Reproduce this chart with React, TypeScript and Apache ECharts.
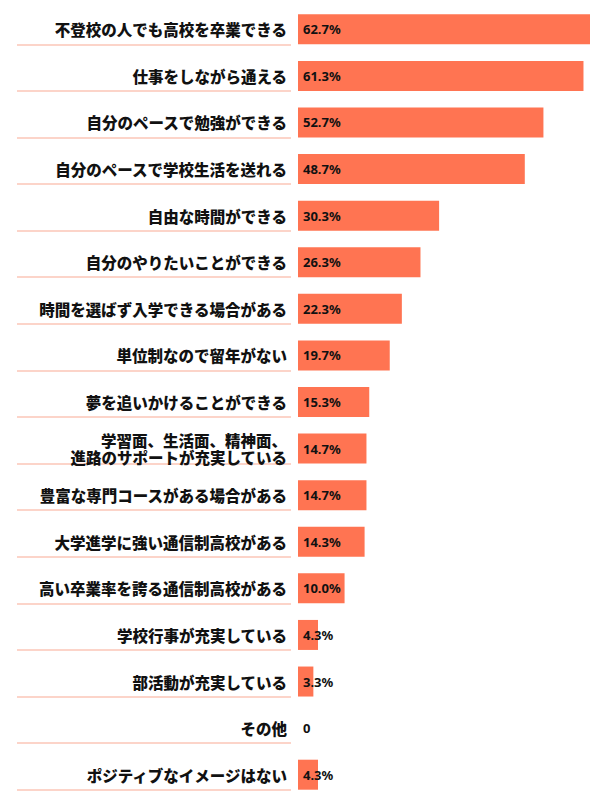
import React, { useEffect, useRef } from "react";
import * as echarts from "echarts";

const categories = [
  "不登校の人でも高校を卒業できる",
  "仕事をしながら通える",
  "自分のペースで勉強ができる",
  "自分のペースで学校生活を送れる",
  "自由な時間ができる",
  "自分のやりたいことができる",
  "時間を選ばず入学できる場合がある",
  "単位制なので留年がない",
  "夢を追いかけることができる",
  "学習面、生活面、精神面、\n進路のサポートが充実している",
  "豊富な専門コースがある場合がある",
  "大学進学に強い通信制高校がある",
  "高い卒業率を誇る通信制高校がある",
  "学校行事が充実している",
  "部活動が充実している",
  "その他",
  "ポジティブなイメージはない",
];

const values = [62.7, 61.3, 52.7, 48.7, 30.3, 26.3, 22.3, 19.7, 15.3, 14.7, 14.7, 14.3, 10.0, 4.3, 3.3, 0, 4.3];

export default function App() {
  const ref = useRef<HTMLDivElement>(null);
  useEffect(() => {
    if (!ref.current) return;
    const chart = echarts.init(ref.current, null, { renderer: "svg" });
    const font = "'Noto Sans CJK JP', 'Noto Sans', sans-serif";
    const top = 6;
    const height = 792;
    const band = height / categories.length;
    const lineTop = top + band / 2 + 15;
    chart.setOption({
      animation: false,
      grid: [
        { left: 298, right: 10, top, height },
        { left: 17, width: 274, top: lineTop, height: band * (categories.length - 1) },
      ],
      xAxis: [
        { type: "value", gridIndex: 0, min: 0, max: 62.7, show: false },
        { type: "value", gridIndex: 1, min: 0, max: 1, show: false },
      ],
      yAxis: [
        {
          type: "category",
          gridIndex: 0,
          data: categories,
          inverse: true,
          axisLine: { show: false },
          axisTick: { show: false },
          splitLine: { show: false },
          axisLabel: {
            margin: 11,
            align: "right",
            formatter: (v: string) =>
              v
                .split("\n")
                .map((s) => "{t|" + s + "}")
                .join("\n"),
            rich: {
              t: {
                fontFamily: font,
                fontWeight: 900,
                fontSize: 15.5,
                color: "#111111",
                lineHeight: 17,
                align: "right",
              },
            },
          },
        },
        {
          type: "category",
          gridIndex: 1,
          data: categories.slice(1),
          inverse: true,
          axisLine: { show: false },
          axisTick: { show: false },
          axisLabel: { show: false },
          splitLine: { show: true, lineStyle: { color: "#fcd4c9", width: 2 } },
        },
      ],
      series: [
        {
          type: "bar",
          xAxisIndex: 0,
          yAxisIndex: 0,
          data: values,
          barWidth: 30,
          itemStyle: { color: "#ff7452" },
          label: {
            show: true,
            position: "insideLeft",
            distance: 5,
            fontFamily: "'Noto Sans', sans-serif",
            fontWeight: "bold",
            fontSize: 13,
            color: "#111111",
            formatter: (p: any) => (p.value === 0 ? "0" : p.value.toFixed(1) + "%"),
          },
        },
      ],
    });
    return () => chart.dispose();
  }, []);
  return (
    <div
      ref={ref}
      style={{ position: "absolute", left: 0, top: 0, width: 600, height: 800 }}
    />
  );
}
